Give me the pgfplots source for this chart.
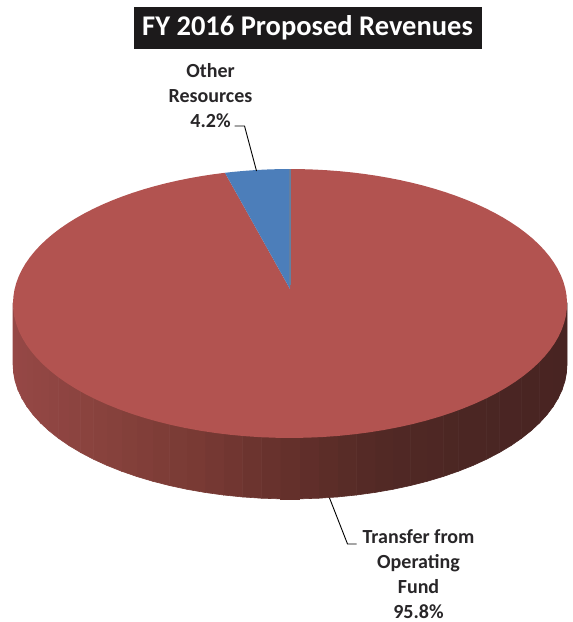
\documentclass[border=0pt]{standalone}
\usepackage{pgfplots}
\usepackage{pgfplotstable}
\usepackage{fontspec}
\setmainfont{Carlito}
\pgfplotsset{compat=1.18}

\definecolor{sliceRed}{RGB}{178,83,80}
\definecolor{sliceBlue}{RGB}{76,126,186}
\definecolor{titleBar}{RGB}{28,26,27}
\definecolor{labelInk}{RGB}{40,38,40}

% Revenue shares in percent
\pgfplotstableread{
slice    percent
other    4.2
transfer 95.8
}\revenues

\begin{document}
\pgfplotstablegetelem{0}{percent}\of\revenues
\pgfmathsetmacro{\otherdeg}{\pgfplotsretval*3.6}
\pgfmathsetmacro{\wedgeend}{360-\otherdeg}
\begin{tikzpicture}
\begin{axis}[
  at={(-5pt,0pt)}, anchor=origin,
  x={(1pt,0pt)}, y={(0pt,1pt)}, z={(0pt,1pt)},
  xmin=0, xmax=568, ymin=0, ymax=622, zmin=-1, zmax=1,
  hide axis, clip=false,
  colormap={wall}{rgb255(0)=(150,72,70) rgb255(87)=(136,66,61) rgb255(187)=(120,58,52)
                  rgb255(277)=(100,48,43) rgb255(367)=(82,41,37) rgb255(457)=(75,38,35)
                  rgb255(555)=(72,36,34)},
  % Tilted disc: angle t runs clockwise from the far edge
  declare function={
    discx(\t)=290.5+275.4*sin(\t)/(1+0.1078*cos(\t));
    discy(\t)=334+132.9*cos(\t)/(1+0.1078*cos(\t));
  },
]
% Rim of the disc
\addplot3[surf, shader=faceted, faceted color=mapped color, line width=0.6pt,
  domain=96.2:263.8, y domain=0:1, samples=48, samples y=2,
  point meta=x, point meta min=13, point meta max=568]
  ({discx(x)}, {discy(x)-62*y}, {0});

% Top face, one wedge per revenue source
\addplot[draw=none, fill=sliceRed, domain=0:\wedgeend, samples=120]
  ({discx(x)}, {discy(x)}) -- (axis cs:290.5,334);
\addplot[draw=none, fill=sliceBlue, domain=-\otherdeg:0, samples=12]
  ({discx(x)}, {discy(x)}) -- (axis cs:290.5,334);
\addplot[line width=1.2pt, color=sliceBlue!55!gray] coordinates {(290.5,338) (290.5,454)};

% Leader lines
\addplot[line width=0.9pt, color=black] coordinates {(235,497) (245,497) (257,452)};
\addplot[line width=0.9pt, color=black] coordinates {(330,125) (348,79) (357,79)};

% Title and labels
\node[fill=titleBar, text=white, font=\bfseries\fontsize{28.5}{32}\selectfont,
  minimum width=348pt, minimum height=42pt, inner sep=0pt] at (axis cs:308,595)
  {FY 2016 Proposed Revenues};
\node[text=labelInk, align=center, font=\bfseries\fontsize{20}{25}\selectfont, inner sep=0pt]
  at (axis cs:211,527) {Other\\Resources\\4.2\%};
\node[text=labelInk, align=center, font=\bfseries\fontsize{20}{25}\selectfont, inner sep=0pt]
  at (axis cs:419,49) {Transfer from\\Operating\\Fund\\95.8\%};
\end{axis}
% Page frame
\pgfresetboundingbox
\useasboundingbox (0,0) rectangle (568pt,622pt);
\end{tikzpicture}
\end{document}
